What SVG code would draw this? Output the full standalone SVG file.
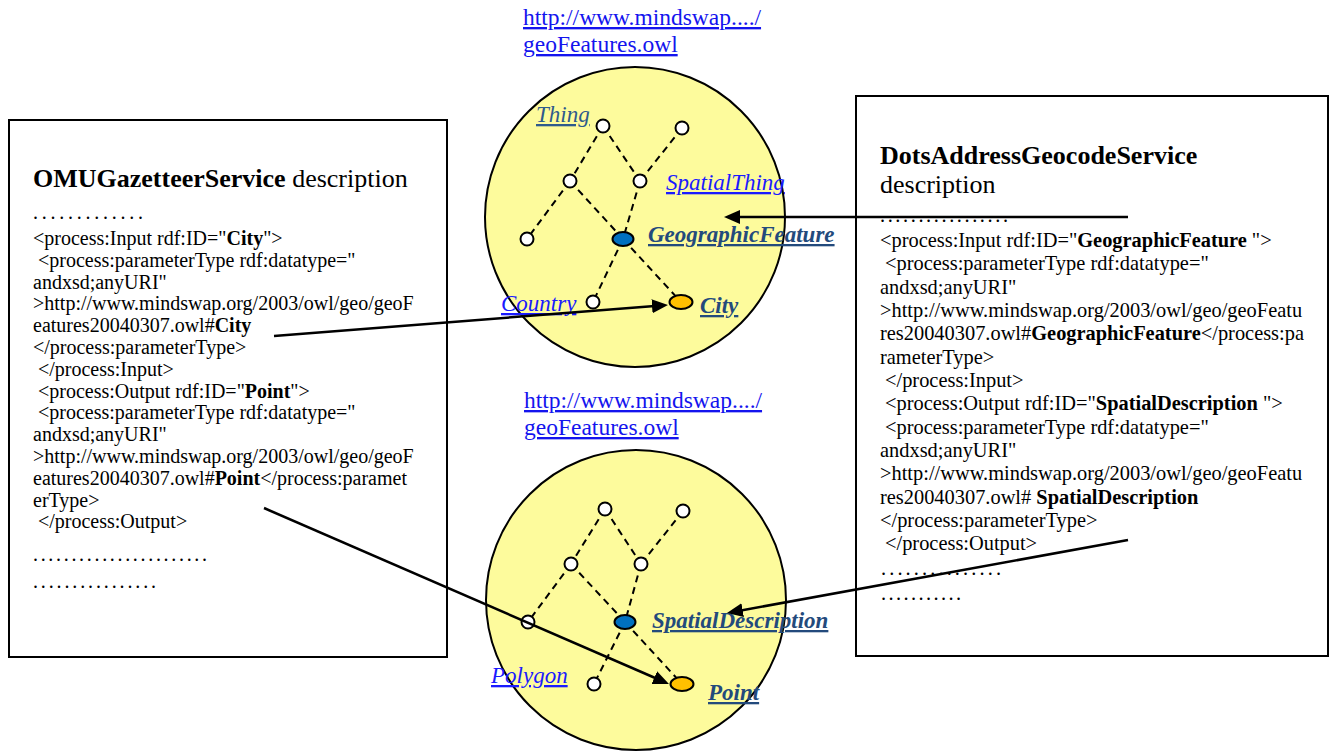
<svg xmlns="http://www.w3.org/2000/svg" width="1330" height="753" viewBox="0 0 1330 753">
  <style>
    .box { fill: #ffffff; stroke: #000000; stroke-width: 2; }
    .body { font-family: "Liberation Serif", "Times New Roman", serif; font-size: 20px; fill: #000000; }
    .bodyR { font-family: "Liberation Serif", "Times New Roman", serif; font-size: 20.4px; fill: #000000; }
    .head { font-family: "Liberation Serif", "Times New Roman", serif; font-size: 26px; fill: #000000; }
    .b { font-weight: bold; }
    .onto { fill: #fdfb9c; stroke: #000000; stroke-width: 2; }
    .url { font-family: "Liberation Serif", "Times New Roman", serif; font-size: 23.5px; fill: #1414ee; text-decoration: underline; }
    .lbl { font-family: "Liberation Serif", "Times New Roman", serif; font-size: 23px; font-style: italic; text-decoration: underline; }
    .lblBlue { fill: #1a1aff; }
    .lblSlate { fill: #2e5a8c; }
    .lblKey { fill: #234a7c; font-weight: bold; }
    .edge { stroke: #000000; stroke-width: 2; stroke-dasharray: 7 5; fill: none; }
    .cls { fill: #ffffff; stroke: #000000; stroke-width: 2; }
    .key { fill: #0070c0; stroke: #000000; stroke-width: 2; }
    .match { fill: #ffc000; stroke: #000000; stroke-width: 2; }
    .link { stroke: #000000; stroke-width: 2.5; fill: none; marker-end: url(#head); }
  </style>
  <defs>
    <marker id="head" markerUnits="userSpaceOnUse" markerWidth="16" markerHeight="14" refX="6" refY="7" orient="auto">
      <path d="M0,0 L16,7 L0,14 Z" fill="#000000"/>
    </marker>
  </defs>

  <!-- OMUGazetteerService description -->
  <g id="omu-gazetteer">
    <rect class="box" x="9" y="120" width="438" height="537"/>
    <text class="head" x="33" y="187"><tspan class="b">OMUGazetteerService</tspan> description</text>
    <text class="body" x="33" y="219" textLength="110" lengthAdjust="spacing">.............</text>
    <text class="body" x="33" y="245">&lt;process:Input rdf:ID="<tspan class="b">City</tspan>"&gt;</text>
    <text class="body" x="38" y="266.8">&lt;process:parameterType rdf:datatype="</text>
    <text class="body" x="33" y="288.6">andxsd;anyURI"</text>
    <text class="body" x="33" y="310.4">&gt;http://www.mindswap.org/2003/owl/geo/geoF</text>
    <text class="body" x="33" y="332.2">eatures20040307.owl#<tspan class="b">City</tspan></text>
    <text class="body" x="33" y="354">&lt;/process:parameterType&gt;</text>
    <text class="body" x="38" y="375.8">&lt;/process:Input&gt;</text>
    <text class="body" x="38" y="397.6">&lt;process:Output rdf:ID="<tspan class="b">Point</tspan>"&gt;</text>
    <text class="body" x="38" y="419.4">&lt;process:parameterType rdf:datatype="</text>
    <text class="body" x="33" y="441.2">andxsd;anyURI"</text>
    <text class="body" x="33" y="463">&gt;http://www.mindswap.org/2003/owl/geo/geoF</text>
    <text class="body" x="33" y="484.8">eatures20040307.owl#<tspan class="b">Point</tspan>&lt;/process:paramet</text>
    <text class="body" x="33" y="506.6">erType&gt;</text>
    <text class="body" x="38" y="528.4">&lt;/process:Output&gt;</text>
    <text class="body" x="33" y="561" textLength="174" lengthAdjust="spacing">.......................</text>
    <text class="body" x="33" y="588" textLength="123" lengthAdjust="spacing">................</text>
  </g>

  <!-- DotsAddressGeocodeService description -->
  <g id="dots-address-geocode">
    <rect class="box" x="856" y="96" width="472" height="560"/>
    <text class="head b" x="880" y="164">DotsAddressGeocodeService</text>
    <text class="head" x="880" y="193">description</text>
    <text class="bodyR" x="880" y="222" textLength="128" lengthAdjust="spacing">.................</text>
    <text class="bodyR" x="880" y="247">&lt;process:Input rdf:ID="<tspan class="b">GeographicFeature </tspan>"&gt;</text>
    <text class="bodyR" x="885" y="270.3">&lt;process:parameterType rdf:datatype="</text>
    <text class="bodyR" x="880" y="293.6">andxsd;anyURI"</text>
    <text class="bodyR" x="880" y="317">&gt;http://www.mindswap.org/2003/owl/geo/geoFeatu</text>
    <text class="bodyR" x="880" y="340.3">res20040307.owl#<tspan class="b">GeographicFeature</tspan>&lt;/process:pa</text>
    <text class="bodyR" x="880" y="363.6">rameterType&gt;</text>
    <text class="bodyR" x="885" y="387">&lt;/process:Input&gt;</text>
    <text class="bodyR" x="885" y="410.3">&lt;process:Output rdf:ID="<tspan class="b">SpatialDescription </tspan>"&gt;</text>
    <text class="bodyR" x="885" y="433.6">&lt;process:parameterType rdf:datatype="</text>
    <text class="bodyR" x="880" y="457">andxsd;anyURI"</text>
    <text class="bodyR" x="880" y="480.3">&gt;http://www.mindswap.org/2003/owl/geo/geoFeatu</text>
    <text class="bodyR" x="880" y="503.6">res20040307.owl# <tspan class="b">SpatialDescription</tspan></text>
    <text class="bodyR" x="880" y="527">&lt;/process:parameterType&gt;</text>
    <text class="bodyR" x="885" y="550.3">&lt;/process:Output&gt;</text>
    <text class="bodyR" x="881" y="575" textLength="120" lengthAdjust="spacing">...............</text>
    <text class="bodyR" x="881" y="600" textLength="80" lengthAdjust="spacing">...........</text>
  </g>

  <!-- geoFeatures ontology (input side) -->
  <g id="geo-ontology-input">
    <text class="url" x="523" y="25">http://www.mindswap..../</text>
    <text class="url" x="523" y="52">geoFeatures.owl</text>
    <circle class="onto" cx="635" cy="217" r="150"/>
    <g id="geo-input-edges">
      <line class="edge" x1="603" y1="126" x2="570" y2="181"/>
      <line class="edge" x1="603" y1="126" x2="640" y2="181"/>
      <line class="edge" x1="682" y1="128" x2="640" y2="181"/>
      <line class="edge" x1="570" y1="181" x2="527" y2="239"/>
      <line class="edge" x1="570" y1="181" x2="623" y2="239"/>
      <line class="edge" x1="640" y1="181" x2="623" y2="239"/>
      <line class="edge" x1="623" y1="239" x2="593" y2="302"/>
      <line class="edge" x1="623" y1="239" x2="681" y2="302"/>
    </g>
    <g id="thing"><circle class="cls" cx="603" cy="126" r="6.5"/><text class="lbl lblSlate" x="536" y="122">Thing</text></g>
    <circle class="cls" cx="682" cy="128" r="6.5"/>
    <circle class="cls" cx="570" cy="181" r="6.5"/>
    <g id="spatial-thing"><circle class="cls" cx="640" cy="181" r="6.5"/><text class="lbl lblBlue" x="666" y="190">SpatialThing</text></g>
    <circle class="cls" cx="527" cy="239" r="6.5"/>
    <g id="geographic-feature"><ellipse class="key" cx="623" cy="239" rx="10.5" ry="7"/><text class="lbl lblKey" x="648" y="242">GeographicFeature</text></g>
    <g id="country"><circle class="cls" cx="593" cy="302" r="6.5"/><text class="lbl lblBlue" x="501" y="311">Country</text></g>
    <g id="city"><ellipse class="match" cx="681" cy="302" rx="11.5" ry="7"/><text class="lbl lblKey" x="700" y="313">City</text></g>
  </g>

  <!-- geoFeatures ontology (output side) -->
  <g id="geo-ontology-output">
    <text class="url" x="524" y="408">http://www.mindswap..../</text>
    <text class="url" x="524" y="435">geoFeatures.owl</text>
    <circle class="onto" cx="636" cy="600" r="150"/>
    <g id="geo-output-edges">
      <line class="edge" x1="605" y1="509" x2="571" y2="564"/>
      <line class="edge" x1="605" y1="509" x2="641" y2="564"/>
      <line class="edge" x1="683" y1="511" x2="641" y2="564"/>
      <line class="edge" x1="571" y1="564" x2="528" y2="622"/>
      <line class="edge" x1="571" y1="564" x2="625" y2="622"/>
      <line class="edge" x1="641" y1="564" x2="625" y2="622"/>
      <line class="edge" x1="625" y1="622" x2="594" y2="684"/>
      <line class="edge" x1="625" y1="622" x2="682" y2="684"/>
    </g>
    <circle class="cls" cx="605" cy="509" r="6.5"/>
    <circle class="cls" cx="683" cy="511" r="6.5"/>
    <circle class="cls" cx="571" cy="564" r="6.5"/>
    <circle class="cls" cx="641" cy="564" r="6.5"/>
    <circle class="cls" cx="528" cy="622" r="6.5"/>
    <g id="spatial-description"><ellipse class="key" cx="625" cy="622" rx="10.5" ry="7"/><text class="lbl lblKey" x="652" y="628">SpatialDescription</text></g>
    <g id="polygon"><circle class="cls" cx="594" cy="684" r="6.5"/><text class="lbl lblBlue" x="491" y="683">Polygon</text></g>
    <g id="point"><ellipse class="match" cx="682" cy="684" rx="11.5" ry="7"/><text class="lbl lblKey" x="708" y="700">Point</text></g>
  </g>

  <!-- parameter-to-concept links -->
  <g id="connectors">
    <line class="link" x1="1128" y1="217" x2="734" y2="217"/>
    <line class="link" x1="274" y1="336" x2="658" y2="305.8"/>
    <line class="link" x1="264" y1="508" x2="659.8" y2="680"/>
    <line class="link" x1="1128" y1="540" x2="736.8" y2="611.2"/>
  </g>
</svg>
